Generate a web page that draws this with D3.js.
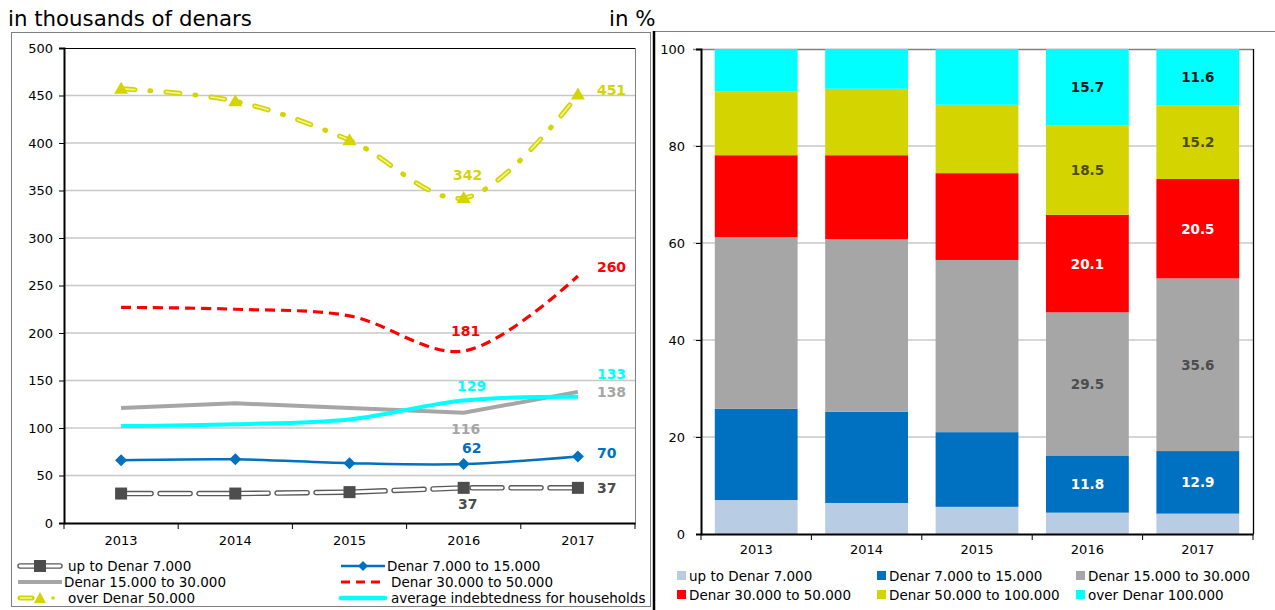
<!DOCTYPE html>
<html><head><meta charset="utf-8">
<script src="https://cdn.jsdelivr.net/npm/d3@7"></script>
<style>body{margin:0;background:#fff}svg{display:block}text{font-family:"DejaVu Sans",Verdana,sans-serif}</style>
</head><body><svg id="c" width="1275" height="610"></svg>
<script>
// ---------- DATA ----------
const years = ['2013','2014','2015','2016','2017'];
const leftTicks = [0,50,100,150,200,250,300,350,400,450,500];
const rightTicks = [0,20,40,60,80,100];
// left chart: thousands of denars
const upTo7 = [31,31,32.5,37,37];
const d7to15 = [66,67,63,62,70];
const d15to30 = [121,126,121,116,138];
const d30to50 = [227,225,218,181,260];
const over50 = [457,444,403,342,451];
const avgDebt = [102,104,109,129,133];
const leftNames = ['up to Denar 7.000','Denar 7.000 to 15.000','Denar 15.000 to 30.000','Denar 30.000 to 50.000','over Denar 50.000','average indebtedness for households'];
// right chart: shares in %
const shUpTo7 = [7.0,6.4,5.6,4.4,4.2];
const sh7to15 = [18.8,18.8,15.4,11.8,12.9];
const sh15to30 = [35.4,35.6,35.5,29.5,35.6];
const sh30to50 = [16.9,17.3,17.9,20.1,20.5];
const sh50to100 = [13.2,13.7,14.1,18.5,15.2];
const shOver100 = [8.7,8.2,11.5,15.7,11.6];
const rightNames = ['up to Denar 7.000','Denar 7.000 to 15.000','Denar 15.000 to 30.000','Denar 30.000 to 50.000','Denar 50.000 to 100.000','over Denar 100.000'];
const labeledYears = ['2016','2017'];

// ---------- DRAW ----------
const svg = d3.select('#c');
const font = '"DejaVu Sans",Verdana,sans-serif';

// headings
svg.append('text').attr('x',8).attr('y',26).attr('font-size',21.3).attr('fill','#000').text('in thousands of denars');
svg.append('text').attr('x',609).attr('y',26).attr('font-size',21.3).attr('fill','#000').text('in %');

// panels
svg.append('rect').attr('x',11.5).attr('y',32.5).attr('width',639).attr('height',574).attr('fill','none').attr('stroke','#7f7f7f').attr('stroke-width',1);
svg.append('line').attr('x1',654).attr('x2',1275).attr('y1',31.5).attr('y2',31.5).attr('stroke','#7f7f7f');
svg.append('line').attr('x1',654).attr('x2',654).attr('y1',31).attr('y2',610).attr('stroke','#000').attr('stroke-width',2.5);

// ===== LEFT CHART =====
const L = {x0:64,x1:635,y0:48,y1:523};
const xL = d3.scaleBand().domain(years).range([L.x0,L.x1]);
const yL = d3.scaleLinear().domain([0,500]).range([L.y1,L.y0]);
const gL = svg.append('g');
gL.selectAll('.g').data(leftTicks.filter(t=>t>0&&t<500)).join('line')
  .attr('x1',L.x0).attr('x2',L.x1).attr('y1',d=>yL(d)).attr('y2',d=>yL(d))
  .attr('stroke','#c8c8c8').attr('stroke-width',1.3);
gL.append('line').attr('x1',L.x0).attr('x2',L.x1).attr('y1',L.y0+0.5).attr('y2',L.y0+0.5).attr('stroke','#000').attr('stroke-width',1.2);
gL.append('line').attr('x1',L.x1+0.5).attr('x2',L.x1+0.5).attr('y1',L.y0).attr('y2',L.y1).attr('stroke','#808080').attr('stroke-width',1);
const axYL = gL.append('g').attr('transform',`translate(${L.x0},0)`)
  .call(d3.axisLeft(yL).tickValues(leftTicks).tickSize(5).tickPadding(6));
axYL.select('.domain').attr('stroke','#000').attr('stroke-width',2);
axYL.selectAll('.tick line').attr('stroke','#000');
axYL.selectAll('text').attr('font-size',13).attr('font-family',font).attr('fill','#000');
const axXL = gL.append('g').attr('transform',`translate(0,${L.y1})`)
  .call(d3.axisBottom(xL).tickSize(0).tickPadding(13));
axXL.select('.domain').attr('stroke','#000').attr('stroke-width',2);
axXL.selectAll('text').attr('font-size',13).attr('font-family',font).attr('fill','#000');
gL.selectAll('.xt').data(years.concat(['end'])).join('line')
  .attr('x1',(d,i)=>L.x0+i*xL.bandwidth()).attr('x2',(d,i)=>L.x0+i*xL.bandwidth())
  .attr('y1',L.y1).attr('y2',L.y1+6).attr('stroke','#000');

const cx = d=>xL(d)+xL.bandwidth()/2;
function pts(arr){return arr.map((v,i)=>[cx(years[i]),yL(v)]);}
const smooth = d3.line().curve(d3.curveCatmullRom.alpha(0.5));
const straight = d3.line();

// up to 7,000 (hollow dashed)
gL.append('path').attr('d',straight(pts(upTo7))).attr('fill','none').attr('stroke','#595959').attr('stroke-width',5.5).attr('stroke-dasharray','30,9').attr('stroke-linecap','round');
gL.append('path').attr('d',straight(pts(upTo7))).attr('fill','none').attr('stroke','#fff').attr('stroke-width',2.8).attr('stroke-dasharray','30,9').attr('stroke-linecap','round');
gL.selectAll('.sq').data(pts(upTo7)).join('rect').attr('x',d=>d[0]-6).attr('y',d=>d[1]-6).attr('width',12).attr('height',12).attr('fill','#4d4d4d');
// 15-30 gray
gL.append('path').attr('d',straight(pts(d15to30))).attr('fill','none').attr('stroke','#a6a6a6').attr('stroke-width',4);
// avg cyan
gL.append('path').attr('d',smooth(pts(avgDebt))).attr('fill','none').attr('stroke','#00ffff').attr('stroke-width',4);
// 7-15 blue
gL.append('path').attr('d',smooth(pts(d7to15))).attr('fill','none').attr('stroke','#0070c0').attr('stroke-width',2.5);
gL.selectAll('.dm').data(pts(d7to15)).join('path').attr('d',d=>`M${d[0]},${d[1]-6}L${d[0]+6},${d[1]}L${d[0]},${d[1]+6}L${d[0]-6},${d[1]}Z`).attr('fill','#0070c0');
// 30-50 red dashed
gL.append('path').attr('d',smooth(pts(d30to50))).attr('fill','none').attr('stroke','#ff0000').attr('stroke-width',3.2).attr('stroke-dasharray','10,6');
// over 50 yellow dash-dot hollow
gL.append('path').attr('d',smooth(pts(over50))).attr('fill','none').attr('stroke','#d4d400').attr('stroke-width',5).attr('stroke-dasharray','14,15,1,15').attr('stroke-linecap','round');
gL.append('path').attr('d',smooth(pts(over50))).attr('fill','none').attr('stroke','#f3f39a').attr('stroke-width',1.6).attr('stroke-dasharray','14,31').attr('stroke-linecap','round');
gL.selectAll('.tr').data(pts(over50)).join('path').attr('d',d=>`M${d[0]},${d[1]-7}L${d[0]+7},${d[1]+5}L${d[0]-7},${d[1]+5}Z`).attr('fill','#d4d400');

// data labels left
const leftLabels = [
  {arr:upTo7,col:'#4d4d4d',d16:[4,21],d17:[19,5]},
  {arr:d7to15,col:'#0070c0',d16:[8,-11],d17:[19,1]},
  {arr:d15to30,col:'#a6a6a6',d16:[2,21],d17:[19,5]},
  {arr:d30to50,col:'#ff0000',d16:[2,-15],d17:[19,-4]},
  {arr:over50,col:'#d4d400',d16:[4,-18],d17:[19,0]},
  {arr:avgDebt,col:'#00ffff',d16:[8,-9],d17:[19,-18]}
];
leftLabels.forEach(s=>{
  labeledYears.forEach(y=>{
    const i = years.indexOf(y);
    const off = y==='2016'?s.d16:s.d17;
    gL.append('text').attr('x',cx(y)+off[0]).attr('y',yL(s.arr[i])+off[1])
      .attr('text-anchor',y==='2016'?'middle':'start').attr('font-size',14).attr('font-weight','bold')
      .attr('fill',s.col).text(String(s.arr[i]));
  });
});

// left legend
const lg = svg.append('g');
function legRow(x,y,name,kind){
  const g = lg.append('g').attr('transform',`translate(${x},${y})`);
  if(kind==='up7'){
    g.append('line').attr('x1',2).attr('x2',42).attr('stroke','#595959').attr('stroke-width',5.5).attr('stroke-linecap','round');
    g.append('line').attr('x1',2).attr('x2',42).attr('stroke','#fff').attr('stroke-width',2.8).attr('stroke-linecap','round');
    g.append('rect').attr('x',16).attr('y',-6).attr('width',12).attr('height',12).attr('fill','#4d4d4d');
  } else if(kind==='blue'){
    g.append('line').attr('x1',0).attr('x2',44).attr('stroke','#0070c0').attr('stroke-width',2.5);
    g.append('path').attr('d','M22,-5L27,0L22,5L17,0Z').attr('fill','#0070c0');
  } else if(kind==='gray'){
    g.append('line').attr('x1',0).attr('x2',44).attr('stroke','#a6a6a6').attr('stroke-width',4);
  } else if(kind==='red'){
    g.append('line').attr('x1',0).attr('x2',44).attr('stroke','#ff0000').attr('stroke-width',3.2).attr('stroke-dasharray','9,6');
  } else if(kind==='yel'){
    g.append('line').attr('x1',2).attr('x2',14).attr('stroke','#d4d400').attr('stroke-width',5).attr('stroke-linecap','round');
    g.append('line').attr('x1',2).attr('x2',14).attr('stroke','#f3f39a').attr('stroke-width',1.6);
    g.append('path').attr('d','M22,-6L28,5L16,5Z').attr('fill','#d4d400');
    g.append('circle').attr('cx',35).attr('cy',0).attr('r',1.8).attr('fill','#d4d400');
  } else if(kind==='cyan'){
    g.append('line').attr('x1',0).attr('x2',44).attr('stroke','#00ffff').attr('stroke-width',4.5).attr('stroke-linecap','round');
  }
  g.append('text').attr('x',kind==='gray'||kind==='blue'?46:50).attr('y',5).attr('font-size',13.5).attr('fill','#000').text(name);
}
legRow(18,566,leftNames[0],'up7');
legRow(18,582,leftNames[2],'gray');
legRow(18,598,leftNames[4],'yel');
legRow(341,566,leftNames[1],'blue');
legRow(341,582,leftNames[3],'red');
legRow(341,598,leftNames[5],'cyan');

// ===== RIGHT CHART =====
const R = {x0:701,x1:1253,y0:49,y1:534};
const xR = d3.scaleBand().domain(years).range([R.x0,R.x1]).paddingInner(0.25).paddingOuter(0.125);
const xRb = d3.scaleBand().domain(years).range([R.x0,R.x1]);
const yR = d3.scaleLinear().domain([0,100]).range([R.y1,R.y0]);
const gR = svg.append('g');
gR.selectAll('.g').data(rightTicks.filter(t=>t>0&&t<100)).join('line')
  .attr('x1',R.x0-8).attr('x2',R.x1).attr('y1',d=>yR(d)).attr('y2',d=>yR(d))
  .attr('stroke','#c8c8c8').attr('stroke-width',1.3);
gR.append('line').attr('x1',R.x0-8).attr('x2',R.x1).attr('y1',R.y0+0.5).attr('y2',R.y0+0.5).attr('stroke','#808080').attr('stroke-width',1.3);

const series = [shUpTo7,sh7to15,sh15to30,sh30to50,sh50to100,shOver100];
const colors = ['#b8cce4','#0070c0','#a6a6a6','#ff0000','#d4d400','#00ffff'];
const lblColors = [null,'#ffffff','#4d4d4d','#ffffff','#4d4d00','#1a1a1a'];
const table = years.map((y,i)=>{const o={year:y};series.forEach((s,k)=>o['s'+k]=s[i]);return o;});
const keys = series.map((s,k)=>'s'+k);
const stacked = d3.stack().keys(keys)(table);
stacked.forEach((layer,k)=>{
  gR.selectAll('.b'+k).data(layer).join('rect')
    .attr('x',d=>xR(d.data.year)).attr('width',xR.bandwidth())
    .attr('y',d=>yR(d[1])).attr('height',d=>yR(d[0])-yR(d[1]))
    .attr('fill',colors[k]);
  if(k>0){
    gR.selectAll('.l'+k).data(layer.filter(d=>labeledYears.includes(d.data.year))).join('text')
      .attr('x',d=>xR(d.data.year)+xR.bandwidth()/2).attr('y',d=>(yR(d[0])+yR(d[1]))/2+5)
      .attr('text-anchor','middle').attr('font-size',13.5).attr('font-weight','bold')
      .attr('fill',lblColors[k]).text(d=>(d[1]-d[0]).toFixed(1));
  }
});
gR.append('line').attr('x1',R.x1+0.5).attr('x2',R.x1+0.5).attr('y1',R.y0).attr('y2',R.y1).attr('stroke','#000').attr('stroke-width',1.3);
const axYR = gR.append('g').attr('transform',`translate(${R.x0},0)`)
  .call(d3.axisLeft(yR).tickValues(rightTicks).tickSize(5).tickPadding(11));
axYR.select('.domain').attr('stroke','#000').attr('stroke-width',2);
axYR.selectAll('.tick line').attr('stroke','#000');
axYR.selectAll('text').attr('font-size',13).attr('font-family',font).attr('fill','#000');
const axXR = gR.append('g').attr('transform',`translate(0,${R.y1})`)
  .call(d3.axisBottom(xRb).tickSize(0).tickPadding(11));
axXR.select('.domain').attr('stroke','#000').attr('stroke-width',2);
axXR.selectAll('text').attr('font-size',13).attr('font-family',font).attr('fill','#000');
gR.selectAll('.xt').data(years.concat(['end'])).join('line')
  .attr('x1',(d,i)=>R.x0+i*xRb.bandwidth()).attr('x2',(d,i)=>R.x0+i*xRb.bandwidth())
  .attr('y1',R.y1).attr('y2',R.y1+6).attr('stroke','#000');

// right legend
const rlPos = [[677,576],[877,576],[1076,576],[677,595],[877,595],[1076,595]];
rightNames.forEach((n,k)=>{
  const [x,y] = rlPos[k];
  svg.append('rect').attr('x',x).attr('y',y-5).attr('width',9).attr('height',9).attr('fill',colors[k]);
  svg.append('text').attr('x',x+12).attr('y',y+5).attr('font-size',13.5).attr('fill','#000').text(n);
});
</script></body></html>
